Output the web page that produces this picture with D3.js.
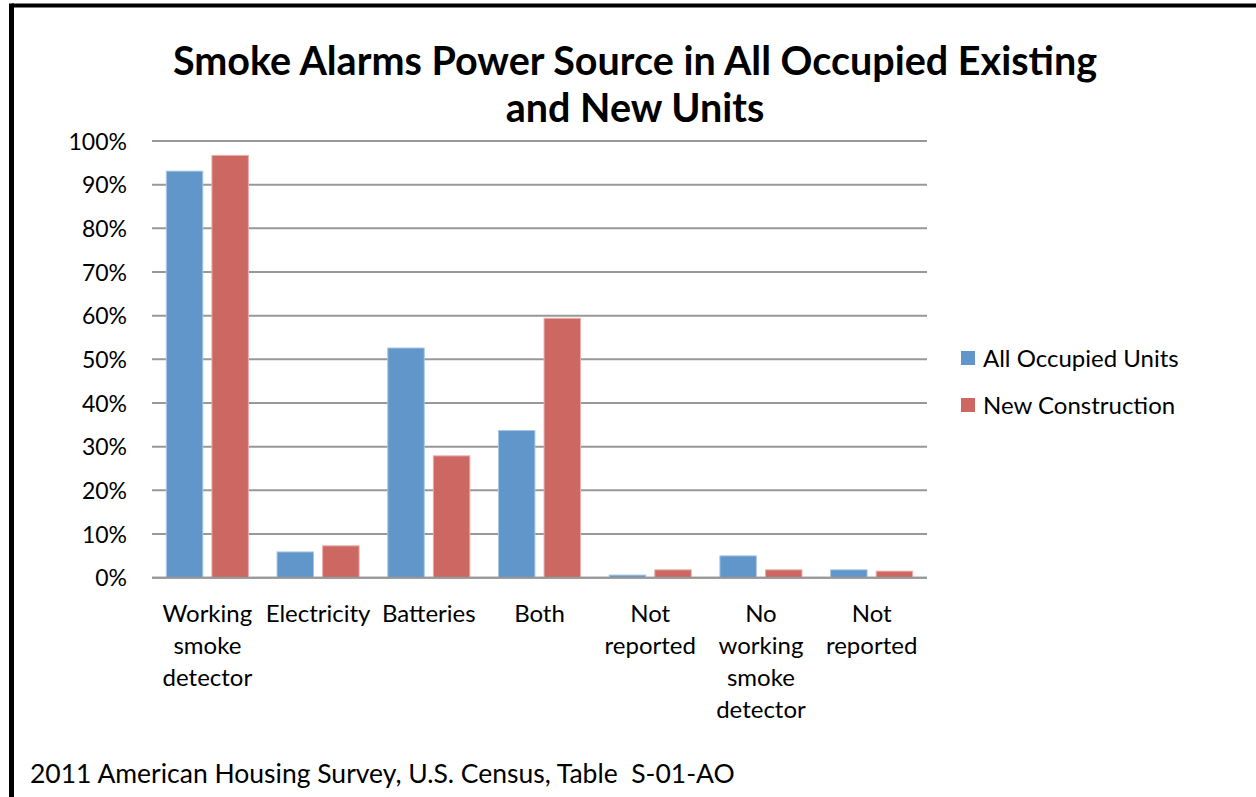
<!DOCTYPE html>
<html>
<head>
<meta charset="utf-8">
<script src="https://cdn.jsdelivr.net/npm/d3@7"></script>
<style>
  html, body { margin: 0; padding: 0; background: #fff; }
  svg { display: block; }
  text { font-family: Lato, "Open Sans", sans-serif; fill: #000; }
</style>
</head>
<body>
<svg id="chart" width="1256" height="797"></svg>
<script>
const titleLines = ["Smoke Alarms Power Source in All Occupied Existing", "and New Units"];
const categories = ["Working smoke detector", "Electricity", "Batteries", "Both", "Not reported", "No working smoke detector", "Not reported "];
const categoryLabels = [["Working", "smoke", "detector"], ["Electricity"], ["Batteries"], ["Both"], ["Not", "reported"], ["No", "working", "smoke", "detector"], ["Not", "reported"]];
const seriesNames = ["All Occupied Units", "New Construction"];
const allOccupied = [93.1, 5.9, 52.6, 33.7, 0.6, 5.0, 1.8];
const newConstruction = [96.7, 7.3, 27.9, 59.4, 1.8, 1.8, 1.5];
const yTicks = [0, 10, 20, 30, 40, 50, 60, 70, 80, 90, 100];
const footer = "2011 American Housing Survey, U.S. Census, Table\u00a0 S-01-AO";

const colors = ["#6096C9", "#CD6761"];
const strokes = ["#A9C6E4", "#E8AEAB"];

const svg = d3.select("#chart");

// outer border (top and left)
svg.append("line").attr("x1", 11.5).attr("x2", 1256).attr("y1", 5.5).attr("y2", 5.5)
  .attr("stroke", "#000").attr("stroke-width", 4);
svg.append("line").attr("x1", 11.5).attr("x2", 11.5).attr("y1", 3.5).attr("y2", 797)
  .attr("stroke", "#000").attr("stroke-width", 5);

// title
svg.append("g").selectAll("text").data(titleLines).join("text")
  .attr("x", 635).attr("y", (d, i) => 75 + i * 47)
  .attr("text-anchor", "middle")
  .style("font-weight", "bold").style("font-size", "39.5px")
  .text(d => d);

const x = d3.scaleBand().domain(categories).range([152, 927]);
const xs = d3.scaleBand().domain(seriesNames).range([0, x.bandwidth()])
  .paddingInner(0.2).paddingOuter(0.314);
const y = d3.scaleLinear().domain([0, 100]).range([577.7, 141]);

// gridlines
svg.append("g").selectAll("line").data(yTicks).join("line")
  .attr("x1", 152).attr("x2", 927)
  .attr("y1", d => y(d)).attr("y2", d => y(d))
  .attr("stroke", "#989898").attr("stroke-width", 2);

// y axis labels
const yAxis = d3.axisLeft(y).tickValues(yTicks).tickSize(0).tickPadding(0)
  .tickFormat(d => d + "%");
const yg = svg.append("g").attr("transform", "translate(127,0)").call(yAxis);
yg.select(".domain").remove();
yg.selectAll("text").style("font-size", "23px").attr("fill", "#000")
  .attr("font-family", null).attr("dy", "0.35em");

// bars
const data = categories.map((c, i) => ({ c, vals: [allOccupied[i], newConstruction[i]] }));
const groups = svg.append("g").selectAll("g").data(data).join("g")
  .attr("transform", d => `translate(${x(d.c)},0)`);
groups.selectAll("rect").data(d => d.vals.map((v, k) => ({ v, k })))
  .join("rect")
  .attr("x", d => xs(seriesNames[d.k]))
  .attr("width", xs.bandwidth())
  .attr("y", d => y(d.v))
  .attr("height", d => y(0) - y(d.v))
  .attr("fill", d => colors[d.k])
  .attr("stroke", d => strokes[d.k]).attr("stroke-width", 1);

// baseline over bars
svg.append("line").attr("x1", 152).attr("x2", 927).attr("y1", y(0)).attr("y2", y(0))
  .attr("stroke", "#989898").attr("stroke-width", 2);

// x labels
const xl = svg.append("g").selectAll("text").data(categories).join("text")
  .attr("text-anchor", "middle")
  .attr("transform", d => `translate(${x(d) + x.bandwidth() / 2},622)`)
  .style("font-size", "24px");
xl.selectAll("tspan").data((d, i) => categoryLabels[i]).join("tspan")
  .attr("x", 0).attr("y", (d, j) => j * 32).text(d => d);

// legend
const lg = svg.append("g").selectAll("g").data(seriesNames).join("g")
  .attr("transform", (d, i) => `translate(961,${351 + i * 47})`);
lg.append("rect").attr("width", 14).attr("height", 14).attr("fill", (d, i) => colors[i]);
lg.append("text").attr("x", 22).attr("y", 7).attr("dy", "0.36em")
  .style("font-size", "24px").text(d => d);

// footer
svg.append("text").attr("x", 30).attr("y", 783).style("font-size", "26.5px").text(footer);
</script>
</body>
</html>
